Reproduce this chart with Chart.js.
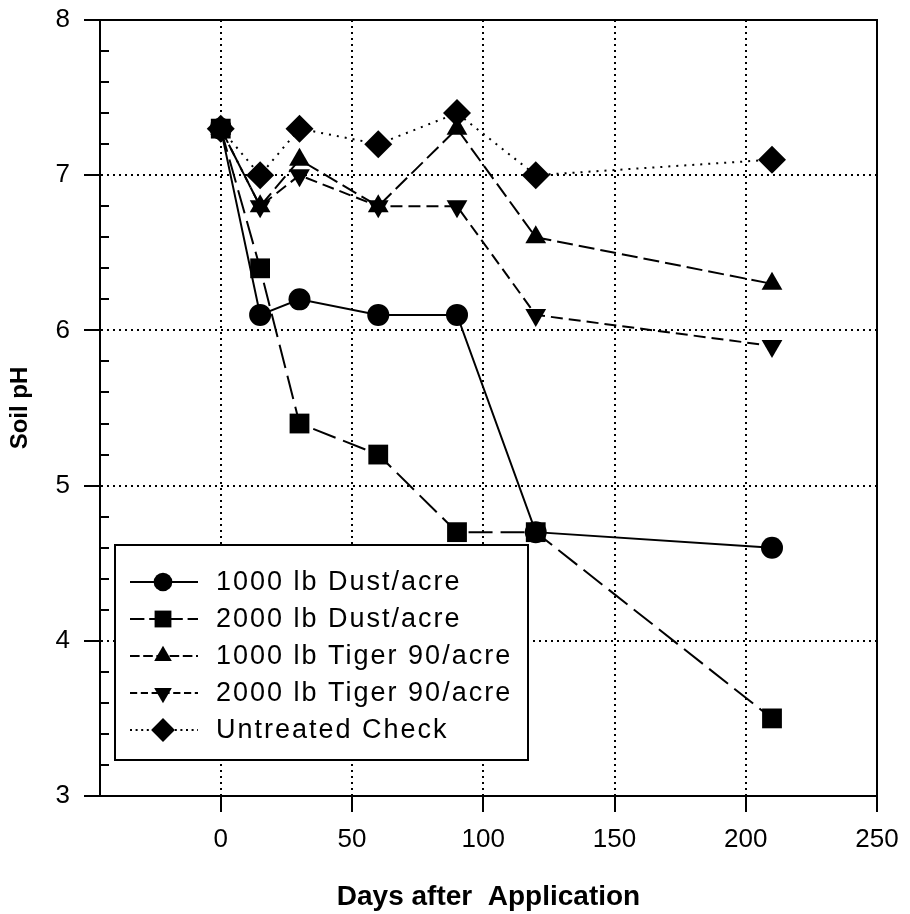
<!DOCTYPE html>
<html><head><meta charset="utf-8">
<script src="https://cdn.jsdelivr.net/npm/chart.js@4.4.0/dist/chart.umd.min.js"></script>
<style>html,body{margin:0;padding:0;background:#fff}#wrap{width:910px;height:914px}</style>
</head><body><div id="wrap"><canvas id="c" width="910" height="914"></canvas></div>
<script>
const days = [0, 15, 30, 60, 90, 120, 210];
const dust1000 = [7.3, 6.1, 6.2, 6.1, 6.1, 4.7, 4.6];
const dust2000 = [7.3, 6.4, 5.4, 5.2, 4.7, 4.7, 3.5];
const tiger1000 = [7.3, 6.8, 7.1, 6.8, 7.3, 6.6, 6.3];
const tiger2000 = [7.3, 6.8, 7.0, 6.8, 6.8, 6.1, 5.9];
const untreated = [7.3, 7.0, 7.3, 7.2, 7.4, 7.0, 7.1];
const seriesNames = ['1000 lb Dust/acre', '2000 lb Dust/acre', '1000 lb Tiger 90/acre', '2000 lb Tiger 90/acre', 'Untreated Check'];
const xTicks = [0, 50, 100, 150, 200, 250];
const yTicks = [3, 4, 5, 6, 7, 8];
const xTitle = 'Days after  Application';
const yTitle = 'Soil pH';

const FONT = "'Liberation Sans', Arial, Helvetica, sans-serif";
const styles = [
  {pointStyle: 'circle', radius: 11, rotation: 0, dash: []},
  {pointStyle: 'rect', radius: 14, rotation: 0, dash: [24, 8]},
  {pointStyle: 'triangle', radius: 12, rotation: 0, dash: [16, 6]},
  {pointStyle: 'triangle', radius: 12, rotation: 180, dash: [12, 6]},
  {pointStyle: 'rectRot', radius: 14, rotation: 0, dash: [2, 6]}
];
const seriesValues = [dust1000, dust2000, tiger1000, tiger2000, untreated];

const datasets = seriesValues.map((vals, i) => ({
  label: seriesNames[i],
  data: days.map((d, j) => ({x: d, y: vals[j]})),
  borderColor: '#000',
  backgroundColor: '#000',
  borderWidth: 2,
  borderDash: styles[i].dash,
  pointStyle: styles[i].pointStyle,
  pointRadius: styles[i].radius,
  pointRotation: styles[i].rotation,
  pointBackgroundColor: '#000',
  pointBorderColor: '#000',
  pointBorderWidth: 0,
  tension: 0,
  fill: false
}));

const framePlugin = {
  id: 'frame',
  afterDraw(chart) {
    const ctx = chart.ctx, a = chart.chartArea;
    const ys = chart.scales.y;
    ctx.save();
    ctx.strokeStyle = '#000';
    ctx.lineWidth = 2;
    ctx.setLineDash([]);
    ctx.beginPath();
    ctx.moveTo(a.left, a.top); ctx.lineTo(a.right, a.top); ctx.lineTo(a.right, a.bottom);
    ctx.stroke();
    // minor ticks on y axis (inside)
    for (let k = 0; k < yTicks.length - 1; k++) {
      for (let m = 1; m < 5; m++) {
        const v = yTicks[k] + m * (yTicks[k + 1] - yTicks[k]) / 5;
        const py = Math.round(ys.getPixelForValue(v));
        ctx.beginPath(); ctx.moveTo(a.left, py); ctx.lineTo(a.left + 9, py); ctx.stroke();
      }
    }
    // legend
    const bx = 115, by = 545, bw = 413, bh = 215;
    ctx.fillStyle = '#fff';
    ctx.fillRect(bx, by, bw, bh);
    ctx.lineWidth = 2;
    ctx.strokeRect(bx, by, bw, bh);
    ctx.font = '27px ' + FONT;
    ctx.textBaseline = 'middle';
    ctx.textAlign = 'left';
    try { ctx.letterSpacing = '2px'; } catch (e) {}
    chart.data.datasets.forEach((ds, i) => {
      const y = 582 + i * 37;
      ctx.strokeStyle = '#000';
      ctx.lineWidth = 2;
      ctx.setLineDash(styles[i].dash.length ? styles[i].dash.map(v => Math.max(2, v * 0.6)) : []);
      ctx.beginPath(); ctx.moveTo(130, y); ctx.lineTo(198, y); ctx.stroke();
      ctx.setLineDash([]);
      ctx.fillStyle = '#000';
      Chart.helpers.drawPoint(ctx, {pointStyle: styles[i].pointStyle, rotation: styles[i].rotation, radius: styles[i].radius * 0.85, borderWidth: 0}, 163, y);
      ctx.fillStyle = '#000';
      ctx.fillText(ds.label, 216, y + 1);
    });
    ctx.restore();
  }
};

const gridOpts = {color: '#000', lineWidth: 2, tickBorderDash: [], tickLength: 16, tickColor: '#000', tickWidth: 2, drawTicks: true};
const borderOpts = {display: true, color: '#000', width: 2, dash: [2, 4]};

new Chart(document.getElementById('c'), {
  type: 'line',
  data: {datasets},
  plugins: [framePlugin],
  options: {
    responsive: false,
    animation: false,
    devicePixelRatio: 1,
    layout: {padding: {top: 20, right: 33, left: 0, bottom: 0}},
    plugins: {legend: {display: false}, tooltip: {enabled: false}},
    scales: {
      x: {
        type: 'linear',
        min: -46, max: 250,
        afterFit(s) { s.height = 118; s.paddingLeft = 0; s.paddingRight = 0; },
        afterBuildTicks(s) { s.ticks = xTicks.map(v => ({value: v})); },
        grid: gridOpts,
        border: borderOpts,
        ticks: {color: '#000', font: {family: FONT, size: 26}, padding: 12, maxRotation: 0, autoSkip: false},
        title: {display: true, text: xTitle, color: '#000', font: {family: FONT, size: 28, weight: 'bold'}, padding: {top: 0, bottom: 0}}
      },
      y: {
        type: 'linear',
        min: 3, max: 8,
        afterFit(s) { s.width = 100; s.paddingTop = 0; s.paddingBottom = 0; },
        afterBuildTicks(s) { s.ticks = yTicks.map(v => ({value: v})); },
        grid: gridOpts,
        border: borderOpts,
        ticks: {color: '#000', font: {family: FONT, size: 26}, padding: 14, autoSkip: false},
        title: {display: true, text: yTitle, color: '#000', font: {family: FONT, size: 24, weight: 'bold'}, padding: {top: 6, bottom: 0}}
      }
    }
  }
});
</script>
</body></html>
